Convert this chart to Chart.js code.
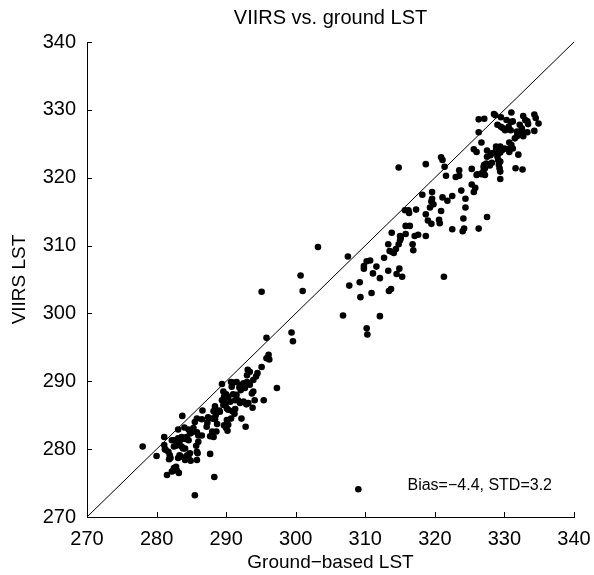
<!DOCTYPE html>
<html>
<head>
<meta charset="utf-8">
<script src="https://cdn.jsdelivr.net/npm/chart.js@4/dist/chart.umd.min.js"></script>
<style>
  html, body { margin: 0; padding: 0; background: #fff; }
</style>
</head>
<body>
<canvas id="lstChart" width="594" height="575"></canvas>
<script>
// axis range / ticks
const axisMin = 270;
const axisMax = 340;
const tickStep = 10;
const oneToOne = [270, 340];

const chartTitle = 'VIIRS vs. ground LST';
const xTitle = 'Ground\u2212based LST';
const yTitle = 'VIIRS LST';
const statsText = 'Bias=\u22124.4, STD=3.2';

// cool cluster (ground, viirs)
const lowGround = [
  296.1, 296.2, 295.8, 297.3, 295.1, 294.5, 294.3, 293.1, 293.0, 295.4,
  294.1, 293.9, 293.7, 293.0, 292.5, 292.2, 291.9, 292.7, 292.1, 291.5,
  291.0, 290.7, 290.8, 289.4, 289.6, 290.0, 290.3, 291.0, 291.5, 291.7,
  291.3, 290.6, 292.0, 292.5, 292.9, 293.2, 293.8, 289.7, 289.9, 290.1,
  290.3, 290.9, 291.3, 292.2, 289.0, 288.2, 288.5, 288.4, 286.6, 286.5,
  285.5, 285.8, 287.4, 287.3, 287.2, 288.0, 288.6, 287.7, 288.2, 290.1,
  290.3, 290.0, 290.2, 291.2, 290.7, 292.8, 288.7, 283.7, 283.1, 284.0,
  284.6, 284.8, 285.0, 285.3, 284.3, 284.6, 284.1, 283.6, 283.4, 283.3,
  282.6, 282.2, 281.1, 281.1, 281.3, 282.5, 282.8, 283.6, 283.8, 284.1,
  285.7, 286.0, 285.8, 284.8, 284.4, 284.6, 285.8, 284.1, 283.3, 283.5,
  283.1, 281.9, 282.0, 281.8, 280.0, 278.0, 282.8, 282.5, 282.4, 282.2,
  281.5, 283.2, 287.7, 288.3, 285.5, 288.4, 289.1, 289.6, 289.4, 289.7,
  288.0, 289.7, 285.8, 286.0, 286.5, 283.1, 281.2, 281.7, 284.9, 285.9,
  282.9, 293.4, 293.9, 293.4
];
const lowViirs = [
  293.9, 293.2, 293.4, 289.0, 292.1, 291.2, 290.7, 291.7, 290.9, 287.2,
  287.2, 288.5, 288.2, 289.9, 289.7, 289.5, 289.1, 289.0, 288.7, 289.9,
  289.8, 289.9, 289.2, 289.6, 288.5, 288.1, 287.7, 288.1, 288.0, 287.2,
  287.2, 287.0, 286.8, 287.0, 286.6, 286.8, 286.1, 287.2, 286.5, 286.0,
  285.8, 285.6, 285.9, 284.5, 285.7, 285.6, 285.0, 284.4, 285.7, 284.4,
  284.0, 284.5, 284.7, 283.9, 283.3, 282.6, 282.6, 281.9, 281.8, 284.3,
  283.6, 283.1, 282.7, 285.2, 284.5, 283.3, 283.7, 284.9, 282.9, 283.2,
  282.9, 282.3, 282.4, 283.1, 281.8, 281.3, 281.5, 281.8, 281.5, 281.1,
  281.3, 281.3, 281.8, 280.6, 279.9, 280.4, 280.5, 280.4, 280.1, 280.1,
  280.5, 281.1, 279.6, 279.4, 279.1, 278.7, 278.4, 278.4, 279.1, 278.9,
  278.7, 279.1, 278.7, 278.5, 279.0, 280.4, 277.4, 277.2, 276.8, 276.7,
  276.2, 276.5, 279.3, 275.9, 273.2, 286.3, 285.5, 286.5, 287.2, 287.7,
  284.5, 283.5, 282.5, 282.0, 282.0, 281.6, 280.0, 279.6, 278.3, 279.4,
  276.9, 291.4, 290.2, 289.5
];

// middle range
const midGround = [
  314.8, 303.2, 307.5, 300.7, 301.0, 299.4, 306.8, 312.1, 310.2, 310.3,
  307.7, 309.2, 309.3, 310.9, 313.4, 313.7, 309.8, 309.8, 310.2, 310.7,
  311.1, 311.6, 312.1, 312.7, 313.3, 314.5, 314.9, 315.3, 313.3, 313.8,
  313.5, 313.8, 314.1, 314.4, 314.8, 315.0, 315.0, 315.1, 315.8, 316.4,
  315.7, 316.2, 316.3, 317.3, 317.1, 316.8, 316.9, 317.6,
  295.1, 299.6, 295.8, 321.3, 309.0
];
const midViirs = [
  321.5, 309.8, 308.4, 305.6, 303.3, 297.2, 299.7, 299.6, 297.8, 296.9,
  304.1, 304.6, 302.4, 303.0, 303.3, 303.6, 306.6, 307.0, 307.7, 307.8,
  305.9, 306.9, 305.2, 308.2, 306.3, 305.8, 306.6, 305.4, 310.2, 311.9,
  309.2, 309.1, 308.9, 309.5, 310.2, 310.8, 311.4, 311.1, 312.9, 312.9,
  315.2, 315.2, 314.8, 315.3, 311.4, 310.2, 309.3, 311.6,
  303.2, 295.9, 296.4, 305.4, 274.1
];

// warm cluster
const highGround = [
  318.7, 320.9, 321.1, 321.4, 321.6, 323.5, 323.5, 323.0, 325.3, 325.6,
  326.0, 326.7, 326.3, 327.5, 327.5, 327.4, 327.0, 326.8, 326.1, 325.3,
  325.8, 325.6, 323.8, 322.5, 321.8, 321.1, 319.6, 319.6, 319.5, 319.8,
  319.3, 318.2, 320.9, 324.4, 324.4, 318.7, 319.0, 319.5, 320.6, 320.7,
  324.1, 327.5, 324.2, 324.0, 322.5, 326.3, 318.7, 315.8,
  326.3, 327.1, 328.5, 328.7, 329.5, 331.0, 330.3, 330.9, 331.2, 332.7,
  333.0, 333.3, 333.4, 334.3, 334.5, 334.9, 329.0, 329.5, 329.8, 330.1,
  330.6, 330.9, 332.2, 332.5, 332.6, 332.5, 332.7, 331.8, 331.8, 331.5,
  333.3, 334.3, 328.8, 329.4, 328.8, 328.9, 329.4, 329.7, 330.0, 330.7,
  331.0, 331.2, 330.5, 330.7, 332.0, 328.2, 328.0, 329.0, 329.1, 329.4,
  329.2, 329.3, 329.4, 328.2, 327.1, 327.2, 327.0, 326.7, 327.2, 331.6,
  332.6, 329.4, 326.0, 327.9
];
const highViirs = [
  322.0, 323.0, 322.6, 321.6, 320.3, 321.1, 320.3, 320.1, 321.3, 324.2,
  323.8, 325.2, 326.7, 324.0, 323.1, 322.1, 321.6, 320.7, 320.5, 319.0,
  318.5, 317.9, 318.1, 317.3, 316.6, 317.1, 317.9, 316.9, 316.5, 316.1,
  315.6, 317.5, 315.1, 316.9, 315.6, 314.6, 313.7, 313.2, 313.8, 313.3,
  314.0, 314.2, 312.5, 312.1, 312.4, 312.5, 311.4, 311.7,
  328.6, 328.7, 329.4, 329.2, 328.9, 329.6, 328.5, 328.2, 328.3, 329.1,
  328.5, 328.3, 327.9, 329.3, 328.8, 328.0, 327.8, 327.5, 327.3, 327.0,
  327.5, 327.0, 327.8, 327.3, 326.8, 326.4, 326.1, 326.8, 326.1, 325.8,
  326.7, 326.9, 324.6, 324.6, 324.1, 323.6, 323.7, 324.1, 324.3, 325.2,
  324.8, 324.3, 324.2, 323.8, 323.4, 323.6, 323.3, 323.1, 322.6, 322.4,
  321.9, 321.4, 320.9, 322.2, 321.9, 321.4, 321.0, 320.5, 320.4, 321.4,
  321.2, 319.8, 320.4, 321.8
];

const groundLST = lowGround.concat(midGround, highGround);
const viirsLST = lowViirs.concat(midViirs, highViirs);
const points = groundLST.map((g, i) => ({ x: g, y: viirsLST[i] }));

const FONT = '"Liberation Sans", Arial, Helvetica, sans-serif';

// ticks pointing into the plot, plus title and stats text
const extras = {
  id: 'extras',
  afterDraw(chart) {
    const { ctx, chartArea, scales } = chart;
    ctx.save();
    ctx.strokeStyle = '#000';
    ctx.lineWidth = 1;
    ctx.beginPath();
    scales.x.ticks.forEach(t => {
      const px = Math.round(scales.x.getPixelForValue(t.value)) + 0.5;
      ctx.moveTo(px, chartArea.bottom);
      ctx.lineTo(px, chartArea.bottom - 5);
    });
    scales.y.ticks.forEach(t => {
      const py = Math.round(scales.y.getPixelForValue(t.value)) + 0.5;
      ctx.moveTo(chartArea.left, py);
      ctx.lineTo(chartArea.left + 5, py);
    });
    ctx.stroke();

    ctx.fillStyle = '#000';
    ctx.textBaseline = 'alphabetic';
    ctx.font = '20px ' + FONT;
    ctx.textAlign = 'center';
    ctx.fillText(chartTitle, (chartArea.left + chartArea.right) / 2, 24);

    ctx.font = '16px ' + FONT;
    ctx.textAlign = 'right';
    ctx.fillText(statsText, chartArea.right - 22, chartArea.bottom - 27);
    ctx.restore();
  }
};

const ctx = document.getElementById('lstChart').getContext('2d');
new Chart(ctx, {
  type: 'scatter',
  data: {
    datasets: [
      {
        data: [{ x: oneToOne[0], y: oneToOne[0] }, { x: oneToOne[1], y: oneToOne[1] }],
        showLine: true,
        borderColor: '#000',
        borderWidth: 1,
        pointRadius: 0
      },
      {
        data: points,
        backgroundColor: '#000',
        borderWidth: 0,
        pointRadius: 3.3
      }
    ]
  },
  options: {
    responsive: false,
    animation: false,
    layout: { padding: { top: 42, right: 20, left: 0, bottom: 0 } },
    plugins: {
      legend: { display: false },
      tooltip: { enabled: false }
    },
    scales: {
      x: {
        type: 'linear',
        min: axisMin,
        max: axisMax,
        grid: { display: false, drawTicks: false },
        border: { display: true, color: '#000', width: 1 },
        ticks: {
          stepSize: tickStep,
          autoSkip: false,
          maxRotation: 0,
          color: '#000',
          padding: 10,
          font: { family: FONT, size: 20 }
        },
        title: {
          display: true,
          text: xTitle,
          color: '#000',
          font: { family: FONT, size: 19 },
          padding: { top: 0, bottom: 1 }
        },
        afterFit(scale) {
          scale.height = 58;
          scale.paddingLeft = 0;
          scale.paddingRight = 0;
        }
      },
      y: {
        type: 'linear',
        min: axisMin,
        max: axisMax,
        grid: { display: false, drawTicks: false },
        border: { display: true, color: '#000', width: 1 },
        ticks: {
          stepSize: tickStep,
          autoSkip: false,
          color: '#000',
          padding: 11,
          font: { family: FONT, size: 20 }
        },
        title: {
          display: true,
          text: yTitle,
          color: '#000',
          font: { family: FONT, size: 19 },
          padding: { top: 8, bottom: 0 }
        },
        afterFit(scale) { scale.width = 87; }
      }
    }
  },
  plugins: [extras]
});
</script>
</body>
</html>
